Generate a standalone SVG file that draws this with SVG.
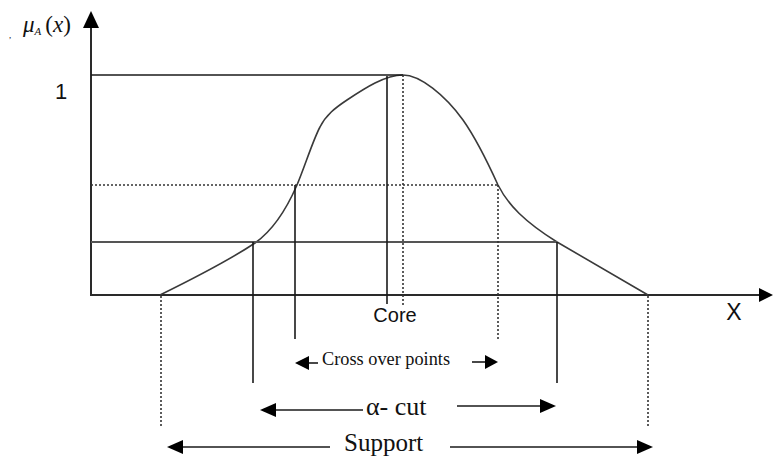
<svg xmlns="http://www.w3.org/2000/svg" width="773" height="457" viewBox="0 0 773 457">
<style>
.ax{stroke:#2a2a2a;stroke-width:2;fill:none}
.sl{stroke:#1a1a1a;stroke-width:1.6;fill:none}
.gl{stroke:#555;stroke-width:1.8;fill:none}
.dt{stroke:#333;stroke-width:1.6;stroke-dasharray:2,2;fill:none}
.cv{stroke:#3a3a3a;stroke-width:1.6;fill:none}
.hd{fill:#000}
.sans{font-family:"Liberation Sans",Arial,sans-serif;fill:#111}
.serif{font-family:"Liberation Serif","Times New Roman",serif;fill:#111}
</style>
<rect width="773" height="457" fill="#fff"/>
<g id="axes">
<line class="ax" x1="91" y1="22" x2="91" y2="296"/>
<polygon class="hd" points="91,11 83,28 99,28"/>
<line class="ax" x1="90" y1="295" x2="762" y2="295"/>
<polygon class="hd" points="773,295 759,288 759,302"/>
<text class="sans" x="61" y="99" font-size="22" text-anchor="middle">1</text>
<text class="sans" x="734" y="320" font-size="23" text-anchor="middle">X</text>
<text class="serif" x="9" y="38" font-size="9" fill="#7a3a8a">,</text>
<text class="serif" x="23" y="32" font-size="23"><tspan font-style="italic">μ</tspan><tspan font-size="11" font-style="italic" dy="3">A</tspan><tspan dy="-3" dx="4">(</tspan><tspan font-style="italic">x</tspan><tspan>)</tspan></text>
</g>
<g id="curve">
<path class="cv" d="M160,295 Q225,263 255,243 C272,231 287,208 297,185 C305,166 313,140 320,127 C326,115 335,108 347,100 C365,88 385,75 403,75 C420,75 445,95 463,120 C475,137 488,163 498,185 C508,205 525,222 557,242 L648,295"/>
</g>
<g id="connectors">
<line class="sl" x1="91" y1="75" x2="403" y2="75"/>
<line class="dt" x1="91" y1="185" x2="498" y2="185"/>
<line class="gl" x1="91" y1="242" x2="557" y2="242"/>
<line class="dt" x1="161" y1="296" x2="161" y2="428"/>
<line class="sl" x1="253" y1="242" x2="253" y2="383"/>
<line class="sl" x1="295" y1="185" x2="295" y2="339"/>
<line class="sl" x1="387" y1="76" x2="387" y2="304"/>
<line class="dt" x1="403" y1="75" x2="403" y2="305"/>
<line class="dt" x1="498" y1="185" x2="498" y2="339"/>
<line class="sl" x1="557" y1="242" x2="557" y2="383"/>
<line class="dt" x1="648" y1="296" x2="648" y2="428"/>
<line class="sl" x1="305" y1="363" x2="318" y2="363"/>
<polygon class="hd" points="295,363 309,356 309,370"/>
<line class="sl" x1="472" y1="362" x2="488" y2="362"/>
<polygon class="hd" points="498,362 485,355 485,369"/>
<line class="sl" x1="272" y1="410" x2="363" y2="410"/>
<polygon class="hd" points="260,410 276,403 276,417"/>
<line class="sl" x1="457" y1="406" x2="544" y2="406"/>
<polygon class="hd" points="556,406 540,399 540,413"/>
<line class="sl" x1="178" y1="447" x2="330" y2="447"/>
<polygon class="hd" points="167,447 183,440 183,454"/>
<line class="sl" x1="450" y1="447" x2="642" y2="447"/>
<polygon class="hd" points="653,447 637,440 637,454"/>
</g>
<g id="labels">
<text class="sans" x="395" y="322" font-size="20" text-anchor="middle">Core</text>
<text class="serif" x="322" y="365" font-size="18" textLength="128" lengthAdjust="spacingAndGlyphs">Cross over points</text>
<text class="serif" x="366" y="415" font-size="26">α- cut</text>
<text class="serif" x="344" y="451" font-size="25">Support</text>
</g>
</svg>
